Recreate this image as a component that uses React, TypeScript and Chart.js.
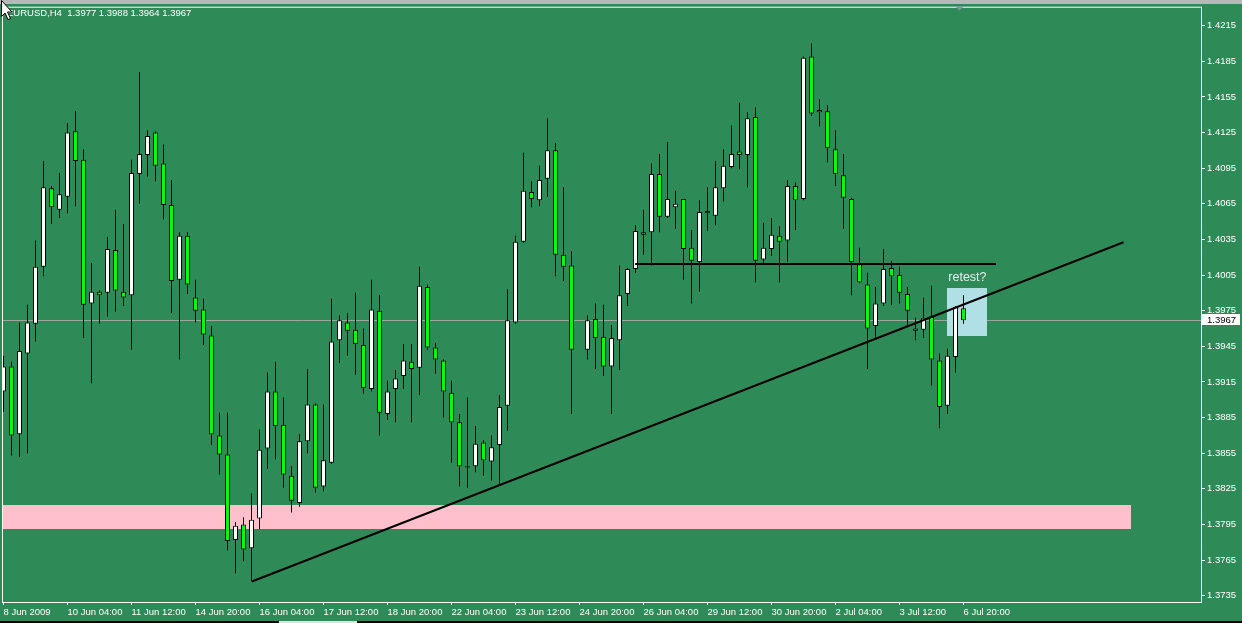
import React, { useEffect, useRef } from "react";
import { Chart, registerables } from "chart.js";

Chart.register(...registerables);

// ---- data (H4 candles, index = bar number, null = missing bar) ----
const OPEN = [
  1.3907, 1.3928, 1.3871, 1.3939, 1.3964, 1.4012, 1.4078, 1.4060, 1.4071, 1.4126,
  1.4102, 1.3981, 1.3991, 1.3990, 1.4026, 1.3991, 1.3988, 1.4090, 1.4106, 1.4125,
  1.4099, 1.4064, 1.4001, 1.4038, 1.3986, 1.3976, 1.3954, 1.3870, 1.3854, 1.3782,
  1.3795, 1.3775, 1.3800, 1.3859, 1.3907, 1.3879, 1.3836, 1.3813, 1.3865, 1.3896,
  1.3827, 1.3847, 1.3950, 1.3965, 1.3959, 1.3946, 1.3909, 1.3975, 1.3888, 1.3909,
  1.3920, 1.3932, 1.3927, 1.3995, 1.3944, 1.3933, 1.3906, 1.3881, 1.3844, 1.3844,
  1.3864, 1.3848, 1.3862, 1.3895, 1.3965, 1.4033, 1.4075, 1.4068, 1.4086, 1.4110,
  1.4022, 1.4013, null, 1.3942, 1.3968, 1.3953, 1.3928, 1.3950, 1.3989, 1.4010,
  1.4041, 1.4041, 1.4090, 1.4054, 1.4062, 1.4069, 1.4028, 1.4016, 1.4059, 1.4055,
  1.4078, 1.4096, 1.4109, 1.4106, 1.4138, 1.4018, 1.4027, 1.4038, 1.4034, 1.4080,
  1.4069, 1.4189, 1.4142, 1.4143, 1.4111, 1.4089, 1.4069, 1.4014, 1.3997, 1.3962,
  1.3981, 1.4011, 1.4005, 1.3989, 1.3958, 1.3959, 1.3970, 1.3933, 1.3895, 1.3936,
  1.3977,
];
const HIGH = [
  1.3937, 1.3932, 1.3965, 1.3980, 1.4034, 1.4101, 1.4080, 1.4091, 1.4133, 1.4143,
  1.4111, 1.4015, 1.3992, 1.4037, 1.4060, 1.4048, 1.4102, 1.4176, 1.4127, 1.4126,
  1.4115, 1.4085, 1.4041, 1.4041, 1.4001, 1.3985, 1.3962, 1.3889, 1.3889, 1.3797,
  1.3801, 1.3821, 1.3875, 1.3923, 1.3932, 1.3902, 1.3844, 1.3871, 1.3926, 1.3897,
  1.3896, 1.3985, 1.3971, 1.3973, 1.3990, 1.3960, 1.4001, 1.3988, 1.3916, 1.3925,
  1.3947, 1.3947, 1.4012, 1.3997, 1.3948, 1.3934, 1.3916, 1.3888, 1.3902, 1.3878,
  1.3866, 1.3870, 1.3904, 1.3993, 1.4038, 1.4108, 1.4084, 1.4097, 1.4137, 1.4116,
  1.4079, 1.4025, null, 1.3971, 1.3981, 1.3980, 1.3963, 1.4013, 1.4011, 1.4047,
  1.4060, 1.4099, 1.4107, 1.4117, 1.4076, 1.4069, 1.4043, 1.4068, 1.4079, 1.4101,
  1.4111, 1.4131, 1.4150, 1.4142, 1.4146, 1.4049, 1.4053, 1.4046, 1.4085, 1.4083,
  1.4189, 1.4200, 1.4153, 1.4148, 1.4127, 1.4107, 1.4070, 1.4028, 1.4007, 1.3995,
  1.4027, 1.4017, 1.4012, 1.3995, 1.3969, 1.3986, 1.3996, 1.3939, 1.3943, 1.3979,
  1.3988,
];
const LOW = [
  1.3890, 1.3853, 1.3852, 1.3855, 1.3949, 1.4004, 1.4048, 1.4053, 1.4057, 1.4063,
  1.3952, 1.3914, 1.3964, 1.3970, 1.3974, 1.3979, 1.3942, 1.4065, 1.4088, 1.4084,
  1.4052, 1.3973, 1.3934, 1.3989, 1.3965, 1.3946, 1.3862, 1.3837, 1.3773, 1.3754,
  1.3764, 1.3747, 1.3791, 1.3842, 1.3850, 1.3826, 1.3805, 1.3810, 1.3855, 1.3822,
  1.3823, 1.3846, 1.3931, 1.3937, 1.3921, 1.3905, 1.3907, 1.3870, 1.3883, 1.3881,
  1.3909, 1.3881, 1.3904, 1.3942, 1.3922, 1.3885, 1.3847, 1.3827, 1.3826, 1.3839,
  1.3836, 1.3832, 1.3829, 1.3874, 1.3964, 1.4032, 1.4062, 1.4063, 1.4071, 1.4004,
  1.4000, 1.3888, null, 1.3934, 1.3926, 1.3920, 1.3888, 1.3925, 1.3979, 1.4007,
  1.4022, 1.4013, 1.4041, 1.4053, 1.4044, 1.4001, 1.3981, 1.3991, 1.4042, 1.4047,
  1.4067, 1.4095, 1.4094, 1.4079, 1.3999, 1.4015, 1.4021, 1.3999, 1.4016, 1.4043,
  1.4068, 1.4139, 1.4130, 1.4100, 1.4080, 1.4044, 1.3988, 1.3998, 1.3926, 1.3952,
  1.3979, 1.3980, 1.3981, 1.3962, 1.3950, 1.3952, 1.3912, 1.3876, 1.3888, 1.3923,
  1.3964,
];
const CLOSE = [
  1.3928, 1.3870, 1.3941, 1.3965, 1.4012, 1.4079, 1.4062, 1.4073, 1.4125, 1.4101,
  1.3980, 1.3991, 1.3988, 1.4027, 1.3992, 1.3986, 1.4091, 1.4107, 1.4122, 1.4097,
  1.4064, 1.4000, 1.4038, 1.3997, 1.3975, 1.3955, 1.3871, 1.3854, 1.3781, 1.3794,
  1.3774, 1.3799, 1.3858, 1.3907, 1.3878, 1.3837, 1.3815, 1.3865, 1.3896, 1.3826,
  1.3849, 1.3949, 1.3967, 1.3958, 1.3947, 1.3910, 1.3976, 1.3889, 1.3907, 1.3918,
  1.3933, 1.3926, 1.3996, 1.3944, 1.3934, 1.3907, 1.3881, 1.3844, 1.3843, 1.3863,
  1.3849, 1.3860, 1.3894, 1.3967, 1.4033, 1.4076, 1.4069, 1.4085, 1.4110, 1.4022,
  1.4012, 1.3942, null, 1.3967, 1.3952, 1.3928, 1.3952, 1.3988, 1.4010, 1.4042,
  1.4039, 1.4090, 1.4054, 1.4069, 1.4065, 1.4027, 1.4017, 1.4058, 1.4057, 1.4079,
  1.4097, 1.4107, 1.4106, 1.4137, 1.4017, 1.4028, 1.4039, 1.4033, 1.4080, 1.4068,
  1.4188, 1.4141, 1.4144, 1.4112, 1.4090, 1.4070, 1.4016, 1.3999, 1.3960, 1.3981,
  1.4010, 1.4004, 1.3990, 1.3975, 1.3960, 1.3969, 1.3934, 1.3894, 1.3937, 1.3978,
  1.3967,
];

const X_LABELS = [
  "8 Jun 2009", "10 Jun 04:00", "11 Jun 12:00", "14 Jun 20:00", "16 Jun 04:00",
  "17 Jun 12:00", "18 Jun 20:00", "22 Jun 04:00", "23 Jun 12:00", "24 Jun 20:00",
  "26 Jun 04:00", "29 Jun 12:00", "30 Jun 20:00", "2 Jul 04:00", "3 Jul 12:00",
  "6 Jul 20:00",
];
const X_LABEL_STEP = 8;
const Y_TICKS = [
  1.3735, 1.3765, 1.3795, 1.3825, 1.3855, 1.3885, 1.3915, 1.3945, 1.3975,
  1.4005, 1.4035, 1.4065, 1.4095, 1.4125, 1.4155, 1.4185, 1.4215,
];

const HEADER = "EURUSD,H4  1.3977 1.3988 1.3964 1.3967";
const LAST_PRICE = 1.3967;
const SUPPORT_ZONE = [1.3791, 1.3811];
const SUPPORT_ZONE_END = 140.96;
const TRENDLINE = [
  { x: 31.05, y: 1.3747 },
  { x: 140, y: 1.40326 },
];
const NECKLINE = [
  { x: 78.96, y: 1.40143 },
  { x: 124.05, y: 1.40143 },
];
const RETEST_BOX = { x0: 117.96, x1: 122.96, y0: 1.39541, y1: 1.39942 };
const RETEST_LABEL = { x: 118.1, y: 1.40026, text: "retest?" };

// ---- view window (layout) ----
const X_MIN = -0.0625;
const X_MAX = 149.6875;
const Y_MIN = 1.372971;
const Y_MAX = 1.423011;

const BG = "#2E8B57";
const FONT = "Liberation Sans";

const decor = {
  id: "decor",
  beforeDraw(chart: any) {
    const { ctx, width, height } = chart;
    ctx.save();
    ctx.fillStyle = BG;
    ctx.fillRect(0, 0, width, height);
    ctx.fillStyle = "#b8b8b8";
    ctx.fillRect(0, 0, width, 4);
    ctx.restore();
  },
  beforeDatasetsDraw(chart: any) {
    const { ctx, chartArea: a, scales } = chart;
    const x = scales.x;
    const y = scales.y;
    ctx.save();
    ctx.beginPath();
    ctx.rect(a.left, a.top, a.right - a.left, a.bottom - a.top);
    ctx.clip();
    // support zone
    const zx1 = x.getPixelForValue(SUPPORT_ZONE_END);
    const zTop = y.getPixelForValue(SUPPORT_ZONE[1]);
    const zBot = y.getPixelForValue(SUPPORT_ZONE[0]);
    ctx.fillStyle = "#FFC0CB";
    ctx.fillRect(a.left, Math.round(zTop), Math.round(zx1) - a.left, Math.round(zBot) - Math.round(zTop));
    // last price line
    const py = Math.round(y.getPixelForValue(LAST_PRICE)) + 0.5;
    ctx.strokeStyle = "#9aa8a0";
    ctx.lineWidth = 1;
    ctx.beginPath();
    ctx.moveTo(a.left, py);
    ctx.lineTo(a.right, py);
    ctx.stroke();
    // retest box
    const bx0 = Math.round(x.getPixelForValue(RETEST_BOX.x0));
    const bx1 = Math.round(x.getPixelForValue(RETEST_BOX.x1));
    const by0 = Math.round(y.getPixelForValue(RETEST_BOX.y1));
    const by1 = Math.round(y.getPixelForValue(RETEST_BOX.y0));
    ctx.fillStyle = "#B0DFE5";
    ctx.fillRect(bx0, by0, bx1 - bx0, by1 - by0);
    // retest label
    ctx.fillStyle = "#e6eeee";
    ctx.font = `12.5px "${FONT}"`;
    ctx.textBaseline = "middle";
    ctx.textAlign = "left";
    ctx.fillText(RETEST_LABEL.text, x.getPixelForValue(RETEST_LABEL.x), y.getPixelForValue(RETEST_LABEL.y));
    ctx.restore();
  },
  afterDraw(chart: any) {
    const { ctx, chartArea: a, width, scales } = chart;
    const y = scales.y;
    ctx.save();
    // plot border
    ctx.strokeStyle = "#ffffff";
    ctx.lineWidth = 1;
    ctx.strokeRect(a.left - 0.5, a.top - 0.5, a.right - a.left + 1, a.bottom - a.top + 1);
    // header
    ctx.fillStyle = "#ffffff";
    ctx.font = `9.5px "${FONT}"`;
    ctx.textBaseline = "middle";
    ctx.textAlign = "left";
    ctx.fillText(HEADER, 7, 13.5);
    // last price tag
    const py = Math.round(y.getPixelForValue(LAST_PRICE));
    ctx.fillStyle = "#ffffff";
    ctx.fillRect(a.right + 1, py - 6, 38, 11);
    ctx.fillStyle = "#000000";
    ctx.fillText(LAST_PRICE.toFixed(4), a.right + 6, py);
    // bottom strip
    ctx.fillStyle = "#000000";
    ctx.fillRect(0, 621, width, 2);
    ctx.fillStyle = "#e0e0e0";
    ctx.fillRect(279, 621, 78, 2);
    // shift marker
    ctx.fillStyle = "#8494a4";
    ctx.beginPath();
    ctx.moveTo(955, 6);
    ctx.lineTo(964, 6);
    ctx.lineTo(959.5, 10.5);
    ctx.closePath();
    ctx.fill();
    // mouse pointer
    ctx.fillStyle = "#ffffff";
    ctx.strokeStyle = "#000000";
    ctx.beginPath();
    ctx.moveTo(1.5, 0.5);
    ctx.lineTo(1.5, 16.5);
    ctx.lineTo(5, 13);
    ctx.lineTo(8, 19.5);
    ctx.lineTo(10.5, 18.5);
    ctx.lineTo(7.5, 12);
    ctx.lineTo(12, 12);
    ctx.closePath();
    ctx.fill();
    ctx.stroke();
    ctx.restore();
  },
};

export default function App() {
  const ref = useRef<HTMLCanvasElement>(null);

  useEffect(() => {
    document.body.style.margin = "0";
    const canvas = ref.current;
    if (!canvas) return;

    const idx: number[] = [];
    OPEN.forEach((o, i) => {
      if (o !== null) idx.push(i);
    });
    const wickData = idx.map((i) => ({ x: i, y: [LOW[i], HIGH[i]] }));
    const bodyData = idx.map((i) => ({ x: i, y: [OPEN[i], CLOSE[i]] }));
    const bodyColors = idx.map((i) => ((CLOSE[i] as number) >= (OPEN[i] as number) ? "#FFFFFF" : "#00FF00"));

    const tickFont = { family: FONT, size: 9.5 };

    const chart = new Chart(canvas, {
      type: "bar",
      data: {
        datasets: [
          {
            type: "line",
            data: TRENDLINE,
            borderColor: "#000000",
            borderWidth: 2,
            pointRadius: 0,
            order: 0,
          } as any,
          {
            type: "line",
            data: NECKLINE,
            borderColor: "#000000",
            borderWidth: 2,
            pointRadius: 0,
            order: 0,
          } as any,
          {
            type: "bar",
            data: bodyData,
            backgroundColor: bodyColors,
            borderColor: "#000000",
            borderWidth: 1,
            borderSkipped: false,
            barThickness: 5,
            grouped: false,
            inflateAmount: 0,
            order: 1,
          } as any,
          {
            type: "bar",
            data: wickData,
            backgroundColor: "#000000",
            borderWidth: 0,
            barThickness: 1,
            grouped: false,
            inflateAmount: 0,
            order: 2,
          } as any,
        ],
      },
      options: {
        responsive: false,
        animation: false,
        devicePixelRatio: 1,
        layout: { padding: { left: 3, top: 6, right: 0, bottom: 0 } },
        plugins: { legend: { display: false }, tooltip: { enabled: false } },
        events: [],
        scales: {
          x: {
            type: "linear",
            offset: false,
            min: X_MIN,
            max: X_MAX,
            afterFit(s: any) {
              s.height = 21;
            },
            afterBuildTicks(s: any) {
              s.ticks = X_LABELS.map((_, i) => ({ value: i * X_LABEL_STEP }));
            },
            ticks: {
              color: "#ffffff",
              font: tickFont,
              align: "start",
              padding: 2,
              autoSkip: false,
              maxRotation: 0,
              callback: (_v: any, i: number) => X_LABELS[i],
            },
            grid: { offset: false, drawOnChartArea: false, drawTicks: true, tickLength: 3, color: "#ffffff" },
            border: { display: false },
          },
          y: {
            type: "linear",
            position: "right",
            min: Y_MIN,
            max: Y_MAX,
            afterFit(s: any) {
              s.width = 41;
            },
            afterBuildTicks(s: any) {
              s.ticks = Y_TICKS.map((v) => ({ value: v }));
            },
            ticks: {
              color: "#ffffff",
              font: tickFont,
              padding: 2,
              autoSkip: false,
              callback: (v: any) => Number(v).toFixed(4),
            },
            grid: { drawOnChartArea: false, drawTicks: true, tickLength: 4, color: "#ffffff" },
            border: { display: false },
          },
        },
      } as any,
      plugins: [decor],
    });

    return () => chart.destroy();
  }, []);

  return <canvas ref={ref} width={1242} height={623} style={{ display: "block" }} />;
}
